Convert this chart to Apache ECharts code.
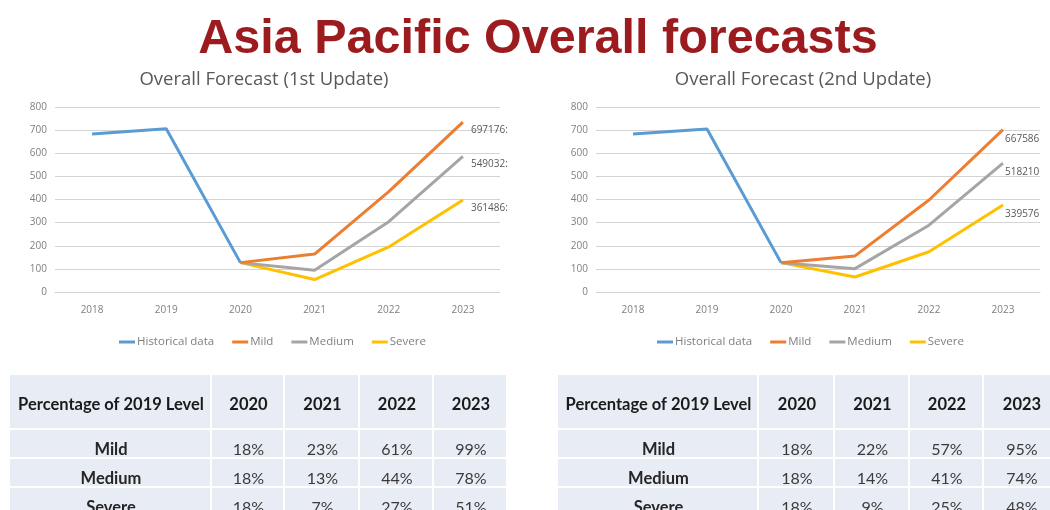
<!DOCTYPE html>
<html>
<head>
<meta charset="utf-8">
<script src="https://cdn.jsdelivr.net/npm/echarts@6/dist/echarts.min.js"></script>
<style>
html,body{margin:0;padding:0;background:#fff;}
#chart{width:1050px;height:510px;}
</style>
</head>
<body>
<div id="chart"></div>
<script>
// ---------- data ----------
const categories = ['2018', '2019', '2020', '2021', '2022', '2023'];
const seriesNames = ['Historical data', 'Mild', 'Medium', 'Severe'];
const yTicks = [0, 100, 200, 300, 400, 500, 600, 700, 800];

// 1st update
const hist1   = [683, 706, 127, null, null, null];
const mild1   = [null, null, 127, 164, 434, 735];
const medium1 = [null, null, 127, 94, 304, 586];
const severe1 = [null, null, 127, 54, 195, 398];
const endLabels1 = ['697176:', '549032:', '361486:'];

// 2nd update
const hist2   = [683, 705, 127, null, null, null];
const mild2   = [null, null, 127, 156, 398, 702];
const medium2 = [null, null, 127, 101, 289, 557];
const severe2 = [null, null, 127, 65, 174, 376];
const endLabels2 = ['667586', '518210', '339576'];

// tables
const tableHeader = 'Percentage of 2019 Level';
const tableYears = ['2020', '2021', '2022', '2023'];
const tableRows = ['Mild', 'Medium', 'Severe'];
const pctMild1   = ['18%', '23%', '61%', '99%'];
const pctMedium1 = ['18%', '13%', '44%', '78%'];
const pctSevere1 = ['18%', '7%', '27%', '51%'];
const pctMild2   = ['18%', '22%', '57%', '95%'];
const pctMedium2 = ['18%', '14%', '41%', '74%'];
const pctSevere2 = ['18%', '9%', '25%', '48%'];

// ---------- styles ----------
const colors = ['#5B9BD5', '#ED7D31', '#A5A5A5', '#FFC000'];
const axisFont = 'Open Sans';

const chart = echarts.init(document.getElementById('chart'), null, {renderer: 'canvas'});

function makeAxes(gridIndex) {
  return {
    x: {
      type: 'category', gridIndex, data: categories, boundaryGap: true,
      axisLine: {show: true, lineStyle: {color: '#d4d4d4'}},
      axisTick: {show: false},
      axisLabel: {color: '#7f7f7f', fontSize: 10, fontFamily: axisFont, margin: 13}
    },
    y: {
      type: 'value', gridIndex, min: yTicks[0], max: yTicks[yTicks.length - 1], interval: 100,
      axisLine: {show: false}, axisTick: {show: false},
      axisLabel: {color: '#7f7f7f', fontSize: 10, fontFamily: axisFont, margin: 8},
      splitLine: {lineStyle: {color: '#d4d4d4', width: 1}}
    }
  };
}

function makeSeries(idx, arrays, endLabels, labelOffset) {
  return arrays.map((arr, i) => {
    const s = {
      name: seriesNames[i], type: 'line', xAxisIndex: idx, yAxisIndex: idx,
      data: arr, showSymbol: false, symbol: 'none', connectNulls: false,
      lineStyle: {color: colors[i], width: 3},
      itemStyle: {color: colors[i]},
      z: i === 0 ? 5 : 4 - i + 2,
      animation: false
    };
    if (i > 0) {
      s.endLabel = {
        show: true, formatter: endLabels[i - 1],
        color: '#595959', fontSize: 10, fontFamily: axisFont,
        distance: 2, offset: labelOffset
      };
    }
    return s;
  });
}

function buildTable(cols, rowsY, pcts) {
  const els = [];
  const bg = '#e8ecf4';
  for (let r = 0; r < rowsY.length - 1; r++) {
    for (let c = 0; c < cols.length - 1; c++) {
      els.push({type: 'rect', shape: {x: cols[c], y: rowsY[r], width: cols[c + 1] - cols[c] - 2, height: rowsY[r + 1] - rowsY[r] - 2}, style: {fill: bg}, silent: true});
    }
  }
  const hy = (rowsY[0] + rowsY[1]) / 2 + 2;
  els.push({type: 'text', x: (cols[0] + cols[1]) / 2, y: hy, style: {text: tableHeader, fill: '#1a1a1a', font: 'bold 16.5px Lato', align: 'center', verticalAlign: 'middle'}, silent: true});
  tableYears.forEach((yr, c) => {
    els.push({type: 'text', x: (cols[c + 1] + cols[c + 2]) / 2, y: hy, style: {text: yr, fill: '#1a1a1a', font: 'bold 16.5px Lato', align: 'center', verticalAlign: 'middle'}, silent: true});
  });
  tableRows.forEach((name, r) => {
    const cy = (rowsY[r + 1] + rowsY[r + 2]) / 2 + 5;
    els.push({type: 'text', x: (cols[0] + cols[1]) / 2, y: cy, style: {text: name, fill: '#262626', font: 'bold 16.5px Lato', align: 'center', verticalAlign: 'middle'}, silent: true});
    pcts[r].forEach((v, c) => {
      els.push({type: 'text', x: (cols[c + 1] + cols[c + 2]) / 2, y: cy, style: {text: v, fill: '#3a3a3a', font: '16px Lato', align: 'center', verticalAlign: 'middle'}, silent: true});
    });
  });
  return els;
}

const a0 = makeAxes(0), a1 = makeAxes(1);
const legendCommon = {
  data: seriesNames, icon: 'rect', itemWidth: 16, itemHeight: 3, itemGap: 18,
  textStyle: {color: '#7f7f7f', fontSize: 11.5, fontFamily: axisFont, padding: [0, 0, 0, -3]},
  selectedMode: false
};

const option = {
  backgroundColor: '#ffffff',
  animation: false,
  title: [
    {text: 'Asia Pacific Overall forecasts', left: 533, top: 10, textAlign: 'center',
     textStyle: {color: '#9B1B1E', fontSize: 48.5, fontWeight: 'bold', fontFamily: 'Liberation Sans'}},
    {text: 'Overall Forecast (1st Update)', left: 259, top: 65, textAlign: 'center',
     textStyle: {color: '#595959', fontSize: 18.5, fontWeight: 'normal', fontFamily: 'Open Sans'}},
    {text: 'Overall Forecast (2nd Update)', left: 798, top: 65, textAlign: 'center',
     textStyle: {color: '#595959', fontSize: 18.5, fontWeight: 'normal', fontFamily: 'Open Sans'}}
  ],
  legend: [
    Object.assign({left: 114, top: 331}, legendCommon),
    Object.assign({left: 652, top: 331}, legendCommon)
  ],
  grid: [
    {left: 55, top: 107, width: 445, height: 185},
    {left: 596, top: 107, width: 444, height: 185}
  ],
  xAxis: [a0.x, a1.x],
  yAxis: [a0.y, a1.y],
  series: [
    ...makeSeries(0, [hist1, mild1, medium1, severe1], endLabels1, [6, 8]),
    ...makeSeries(1, [hist2, mild2, medium2, severe2], endLabels2, [0, 9])
  ],
  graphic: [
    ...buildTable([10, 212, 285, 360, 434, 508], [375, 430, 459, 488, 518],
                  [pctMild1, pctMedium1, pctSevere1]),
    ...buildTable([558, 759, 835, 910, 984, 1060], [375, 430, 459, 488, 518],
                  [pctMild2, pctMedium2, pctSevere2])
  ]
};
chart.setOption(option);
</script>
</body>
</html>
